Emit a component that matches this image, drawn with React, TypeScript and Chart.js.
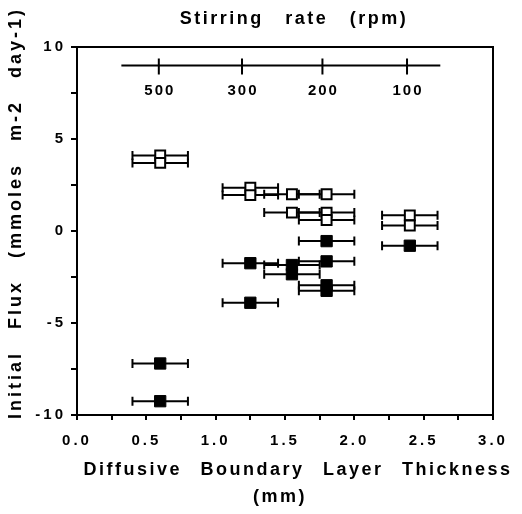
import React, { useEffect, useRef } from 'react';
import { Chart, registerables } from 'chart.js';

Chart.register(...registerables);

// Open squares
const openX = [0.6, 0.6, 1.25, 1.25, 1.55, 1.55, 1.8, 1.8, 1.8, 2.4, 2.4];
const openY = [4.1, 3.7, 2.35, 1.95, 2.0, 1.0, 2.0, 1.0, 0.6, 0.85, 0.3];
const openXErr = [0.2, 0.2, 0.2, 0.2, 0.2, 0.2, 0.2, 0.2, 0.2, 0.2, 0.2];

// Filled squares
const filledX = [0.6, 0.6, 1.25, 1.25, 1.55, 1.55, 1.8, 1.8, 1.8, 1.8, 2.4];
const filledY = [-7.2, -9.25, -1.75, -3.9, -1.85, -2.35, -0.55, -1.65, -2.95, -3.25, -0.8];
const filledXErr = [0.2, 0.2, 0.2, 0.2, 0.2, 0.2, 0.2, 0.2, 0.2, 0.2, 0.2];

// Secondary (stirring rate) axis
const rpmLabels = ['500', '300', '200', '100'];
const rpmAtThickness = [0.59, 1.19, 1.77, 2.38];
const rpmAxisRange = [0.32, 2.62];
const rpmAxisLevel = 9.0;

const xTicksMin = 0;
const xTicksMax = 3;
const yTicksMin = -10;
const yTicksMax = 10;

const topTitle = 'Stirring rate (rpm)';
const xTitle = 'Diffusive Boundary Layer Thickness';
const xTitleUnit = '(mm)';
const yTitle = 'Initial Flux (mmoles m-2 day-1)';

const FONT = '"Liberation Sans", Arial, Helvetica, sans-serif';

const errorBarPlugin = {
  id: 'errorBars',
  beforeDatasetsDraw(chart: any) {
    const ctx = chart.ctx;
    const xs = chart.scales.x;
    const ys = chart.scales.y;
    const sets = [
      { x: openX, y: openY, e: openXErr },
      { x: filledX, y: filledY, e: filledXErr },
    ];
    ctx.save();
    ctx.strokeStyle = '#000';
    ctx.lineWidth = 2;
    for (const s of sets) {
      for (let i = 0; i < s.x.length; i++) {
        const x1 = xs.getPixelForValue(s.x[i] - s.e[i]);
        const x2 = xs.getPixelForValue(s.x[i] + s.e[i]);
        const py = ys.getPixelForValue(s.y[i]);
        ctx.beginPath();
        ctx.moveTo(x1, py);
        ctx.lineTo(x2, py);
        ctx.moveTo(x1, py - 4.5);
        ctx.lineTo(x1, py + 4.5);
        ctx.moveTo(x2, py - 4.5);
        ctx.lineTo(x2, py + 4.5);
        ctx.stroke();
      }
    }
    ctx.restore();
  },
};

const decorPlugin = {
  id: 'decor',
  beforeDraw(chart: any) {
    (chart.ctx as any).letterSpacing = '3px';
  },
  afterDraw(chart: any) {
    const ctx = chart.ctx as any;
    const xs = chart.scales.x;
    const ys = chart.scales.y;
    const area = chart.chartArea;
    ctx.save();
    // frame
    ctx.strokeStyle = '#000';
    ctx.lineWidth = 2;
    ctx.beginPath();
    ctx.moveTo(area.left, area.top);
    ctx.lineTo(area.right, area.top);
    ctx.lineTo(area.right, area.bottom);
    ctx.stroke();

    // stirring-rate axis
    const ly = ys.getPixelForValue(rpmAxisLevel);
    ctx.beginPath();
    ctx.moveTo(xs.getPixelForValue(rpmAxisRange[0]), ly);
    ctx.lineTo(xs.getPixelForValue(rpmAxisRange[1]), ly);
    for (const v of rpmAtThickness) {
      const px = xs.getPixelForValue(v);
      ctx.moveTo(px, ly - 7);
      ctx.lineTo(px, ly + 9);
    }
    ctx.stroke();
    ctx.fillStyle = '#000';
    ctx.font = `bold 15px ${FONT}`;
    ctx.letterSpacing = '2px';
    ctx.textAlign = 'center';
    ctx.textBaseline = 'middle';
    rpmAtThickness.forEach((v, i) => {
      ctx.fillText(rpmLabels[i], xs.getPixelForValue(v) + 1, ly + 25);
    });

    // titles
    ctx.font = `bold 18px ${FONT}`;
    ctx.letterSpacing = '2.5px';
    ctx.wordSpacing = '14px';
    ctx.textAlign = 'center';
    ctx.fillText(topTitle, 294, 19);
    ctx.wordSpacing = '11px';
    ctx.fillText(xTitle, 298, 470);
    ctx.wordSpacing = '0px';
    ctx.fillText(xTitleUnit, 280, 497);

    ctx.translate(16, 419);
    ctx.rotate(-Math.PI / 2);
    ctx.textAlign = 'left';
    ctx.letterSpacing = '3px';
    ctx.wordSpacing = '14px';
    ctx.fillText(yTitle, 0, 0);
    ctx.restore();
  },
};

export default function App() {
  const ref = useRef<HTMLCanvasElement | null>(null);
  useEffect(() => {
    if (!ref.current) return;
    const mk = (xs: number[], ys: number[]) => xs.map((x, i) => ({ x, y: ys[i] }));
    const chart = new Chart(ref.current, {
      type: 'scatter',
      data: {
        datasets: [
          {
            label: 'open',
            data: mk(openX, openY),
            pointStyle: 'rect',
            pointRadius: 7,
            pointBackgroundColor: '#fff',
            pointBorderColor: '#000',
            pointBorderWidth: 2,
          },
          {
            label: 'filled',
            data: mk(filledX, filledY),
            pointStyle: 'rect',
            pointRadius: 8,
            pointBackgroundColor: '#000',
            pointBorderColor: '#000',
            pointBorderWidth: 1,
          },
        ],
      },
      options: {
        responsive: false,
        animation: false,
        events: [],
        layout: { padding: { top: 47, right: 29, left: 0, bottom: 0 } },
        plugins: { legend: { display: false }, tooltip: { enabled: false }, title: { display: false } },
        scales: {
          x: {
            type: 'linear',
            min: xTicksMin,
            max: xTicksMax,
            afterFit: (s: any) => { s.height = 99; },
            border: { display: true, color: '#000', width: 2 },
            grid: { display: true, drawOnChartArea: false, drawTicks: true, tickLength: 5, color: '#000', lineWidth: 2 },
            ticks: {
              stepSize: 0.25,
              autoSkip: false,
              maxRotation: 0,
              padding: 12,
              color: '#000',
              font: { family: FONT, size: 15, weight: 'bold' },
              callback: (v: any) => {
                const n = Number(v);
                return Math.abs(n * 2 - Math.round(n * 2)) < 1e-6 ? n.toFixed(1) : '';
              },
            },
          },
          y: {
            type: 'linear',
            min: yTicksMin,
            max: yTicksMax,
            afterFit: (s: any) => { s.width = 77; },
            border: { display: true, color: '#000', width: 2 },
            grid: { display: true, drawOnChartArea: false, drawTicks: true, tickLength: 6, color: '#000', lineWidth: 2 },
            ticks: {
              stepSize: 2.5,
              autoSkip: false,
              padding: 5,
              color: '#000',
              font: { family: FONT, size: 15, weight: 'bold' },
              callback: (v: any) => {
                const n = Number(v);
                return Math.abs(n % 5) < 1e-6 ? String(n) : '';
              },
            },
          },
        },
      },
      plugins: [errorBarPlugin, decorPlugin],
    } as any);
    return () => chart.destroy();
  }, []);
  return (
    <div style={{ position: 'fixed', left: 0, top: 0, width: 522, height: 514, background: '#fff' }}>
      <canvas ref={ref} width={522} height={514} style={{ display: 'block', width: 522, height: 514 }} />
    </div>
  );
}
